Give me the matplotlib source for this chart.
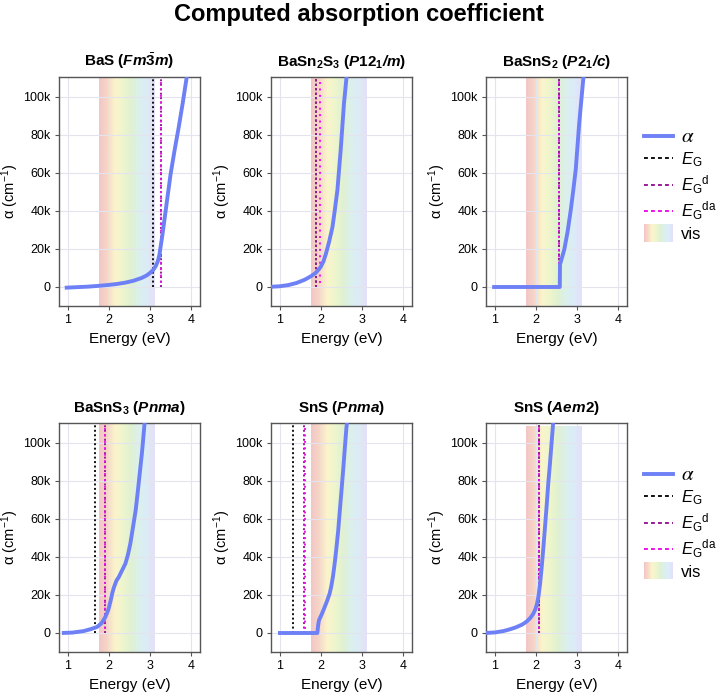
import numpy as np
import matplotlib
matplotlib.use('Agg')
import matplotlib.pyplot as plt
from matplotlib.colors import LinearSegmentedColormap
from matplotlib.lines import Line2D
from matplotlib.patches import Rectangle
from matplotlib.legend_handler import HandlerBase
from matplotlib.ticker import FuncFormatter

plt.rcParams['font.family'] = 'Liberation Sans'
plt.rcParams['mathtext.fontset'] = 'custom'
plt.rcParams['mathtext.rm'] = 'Liberation Sans'
plt.rcParams['mathtext.it'] = 'Liberation Sans:italic'
plt.rcParams['mathtext.bf'] = 'Liberation Sans:bold'
plt.rcParams['mathtext.bfit'] = 'Liberation Sans:italic:bold'

# ---- data (energy in eV, alpha in 1e3 cm^-1) ----
titles = [
    r'BaS ($\mathbfit{Fm}\bar{\mathbf{3}}\mathbfit{m}$)',
    r'BaSn$_\mathbf{2}$S$_\mathbf{3}$ ($\mathbfit{P}\mathbf{12}_\mathbf{1}\mathbfit{/m}$)',
    r'BaSnS$_\mathbf{2}$ ($\mathbfit{P}\mathbf{2}_\mathbf{1}\mathbfit{/c}$)',
    r'BaSnS$_\mathbf{3}$ ($\mathbfit{Pnma}$)',
    r'SnS ($\mathbfit{Pnma}$)',
    r'SnS ($\mathbfit{Aem}\mathbf{2}$)',
]

e_bas = [0.92, 1.2, 1.5, 1.8, 2.0, 2.2, 2.4, 2.6, 2.8, 2.92, 3.0, 3.08, 3.14, 3.19,
         3.23, 3.3, 3.4, 3.5, 3.6, 3.7, 3.8, 3.9]
a_bas = [-0.4, -0.1, 0.2, 0.7, 1.1, 1.6, 2.3, 3.3, 4.8, 6.1, 7.4, 9.0, 11.0, 13.5,
         17, 27, 43, 59, 72, 84, 97, 111]

e_basn2s3 = [0.7, 1.0, 1.2, 1.4, 1.6, 1.75, 1.87, 1.99, 2.06, 2.12, 2.2, 2.28, 2.34,
             2.40, 2.48, 2.56, 2.63]
a_basn2s3 = [0, 0.4, 1.0, 2.1, 3.8, 5.6, 7.4, 10.5, 13.5, 17.5, 24, 31.6, 41,
             51, 72, 96.5, 112]

e_basns2 = [0.93, 2.58, 2.585, 2.69, 2.77, 2.85, 2.91, 2.97, 3.05, 3.1, 3.16]
a_basns2 = [0, 0, 11.8, 19.7, 29, 40.8, 51, 62, 85, 97, 111]

e_basns3 = [0.85, 1.1, 1.38, 1.55, 1.71, 1.82, 1.91, 1.98, 2.04, 2.08, 2.12, 2.18,
            2.24, 2.32, 2.40, 2.46, 2.52, 2.58, 2.65, 2.70, 2.75, 2.80, 2.83, 2.87]
a_basns3 = [0, 0.2, 1.0, 2.0, 3.2, 5.2, 8.4, 12, 17, 21, 24, 27.5,
            29.5, 33, 36.5, 41, 47, 55, 64.5, 74, 84, 94, 101, 111]

e_sns_pnma = [0.95, 1.91, 1.93, 1.95, 2.02, 2.09, 2.15, 2.21, 2.25, 2.29, 2.33, 2.37,
              2.42, 2.46, 2.50, 2.54, 2.58, 2.62, 2.64]
a_sns_pnma = [0, 0, 4, 6.7, 10, 13.7, 17, 20.7, 24.5, 29.5, 36, 43.5,
              54, 64.6, 75, 85.6, 97, 108, 112]

e_sns_aem2 = [0.75, 1.0, 1.2, 1.34, 1.5, 1.66, 1.77, 1.86, 1.93, 1.98, 2.02, 2.06,
              2.10, 2.14, 2.18, 2.22, 2.26, 2.30, 2.34, 2.38, 2.42]
a_sns_aem2 = [0, 0.3, 1.0, 1.8, 2.9, 4.4, 6.0, 7.9, 10, 12.3, 15, 19.3,
              26, 35, 45, 56, 67, 79, 89, 100, 111]

energies = [e_bas, e_basn2s3, e_basns2, e_basns3, e_sns_pnma, e_sns_aem2]
alphas = [a_bas, a_basn2s3, a_basns2, a_basns3, a_sns_pnma, a_sns_aem2]

eg    = [3.08, 1.87, 2.55, 1.67, 1.32, 2.07]
eg_d  = [3.26, 1.88, 2.55, 1.90, 1.59, 2.07]
eg_da = [3.27, 1.97, 2.55, 1.91, 1.60, 2.07]

vis_lo, vis_hi = 1.75, 3.1
vis_top = [110.5, 110.5, 110.5, 110.5, 110.5, 108.8]

# ---- styles ----
c_alpha = '#6e80f5'
c_eg, c_egd, c_egda = '#111111', '#9a1a9a', '#ee11ee'
vis_cols = ['#f2c6c6', '#f6d6c6', '#fbf4cc', '#eef6cc', '#e0f1d2', '#dbf0ec',
            '#dcecf8', '#e3e1fa']
vis_cmap = LinearSegmentedColormap.from_list('vis', vis_cols)


class HandlerGradient(HandlerBase):
    def create_artists(self, legend, orig_handle, xdescent, ydescent, width,
                       height, fontsize, trans):
        n = 30
        h = height * 1.5
        y0 = -ydescent - (h - height) / 2
        arts = []
        for i in range(n):
            r = Rectangle((-xdescent + i * width / n, y0), width / n * 1.05, h,
                          facecolor=vis_cmap(i / (n - 1)), edgecolor='none',
                          transform=trans)
            arts.append(r)
        return arts


W, H = 718, 699
fig = plt.figure(figsize=(W / 100, H / 100), dpi=100)
fig.text(0.5, 1 - 14 / H, 'Computed absorption coefficient', ha='center',
         va='center', fontsize=17, fontweight='bold')

lefts = [59, 271, 486]
tops = [77, 423]
aw, ah = 141, 229

kfmt = FuncFormatter(lambda v, p: '0' if v == 0 else f'{int(round(v / 1000))}k')
axes = []
for i in range(6):
    r, c = divmod(i, 3)
    ax = fig.add_axes([lefts[c] / W, 1 - (tops[r] + ah) / H, aw / W, ah / H])
    axes.append(ax)
    ymin, ymax = -10000, 110500
    grad = np.linspace(0, 1, 256).reshape(1, -1)
    ax.imshow(grad, cmap=vis_cmap, aspect='auto', zorder=0,
              extent=[vis_lo, vis_hi, ymin, vis_top[i] * 1000], interpolation='bilinear')
    ax.vlines(eg[i], 0, ymax, colors=c_eg, linestyles=(0, (1, 1.3)), lw=1.4, zorder=2)
    ax.vlines(eg_d[i], 0, ymax, colors=c_egd, linestyles=(0, (1, 1.3)), lw=1.4, zorder=2)
    ax.vlines(eg_da[i], 0, ymax, colors=c_egda, linestyles=(1.2, (1, 2.3)), lw=1.4, zorder=2)
    ax.plot(energies[i], np.array(alphas[i]) * 1000, color=c_alpha, lw=2.8,
            solid_capstyle='butt', zorder=3)
    ax.set_xlim(0.78, 4.22)
    ax.set_ylim(ymin, ymax)
    ax.set_xticks([1, 2, 3, 4])
    ax.set_yticks(np.arange(0, 100001, 20000))
    ax.yaxis.set_major_formatter(kfmt)
    ax.set_axisbelow(True)
    ax.grid(True, color='#e4e4ee', lw=0.8)
    for s in ax.spines.values():
        s.set_color('#555555')
        s.set_linewidth(1.0)
    ax.tick_params(labelsize=9, color='#555555', length=3, pad=3)
    ax.set_xlabel('Energy (eV)', fontsize=11)
    ax.set_ylabel(r'α (cm$^{-1}$)', fontsize=10.5, labelpad=2)
    ax.set_title(titles[i], fontsize=11, fontweight='bold', pad=8)

handles = [
    Line2D([], [], color=c_alpha, lw=2.8),
    Line2D([], [], color=c_eg, lw=1.4, ls=(0, (2, 1.6))),
    Line2D([], [], color=c_egd, lw=1.4, ls=(0, (2, 1.6))),
    Line2D([], [], color=c_egda, lw=1.4, ls=(0, (2, 1.6))),
    Rectangle((0, 0), 1, 1),
]
labels = ['α', r'$E_\mathrm{G}$', r'$E_\mathrm{G}{}^\mathrm{d}$',
          r'$E_\mathrm{G}{}^\mathrm{da}$', 'vis']
for ax, yanch in ((axes[2], 0.808), (axes[5], 0.843)):
    leg = ax.legend(handles, labels, loc='upper left', bbox_to_anchor=(1.07, yanch),
                    frameon=False, fontsize=12, handlelength=1.75, labelspacing=0.25,
                    handletextpad=0.5, borderaxespad=0,
                    handler_map={Rectangle: HandlerGradient()})
    t = leg.get_texts()[0]
    t.set_fontfamily('STIXGeneral')
    t.set_fontstyle('italic')
    t.set_fontsize(15)

fig.savefig('out.png', dpi=100)
